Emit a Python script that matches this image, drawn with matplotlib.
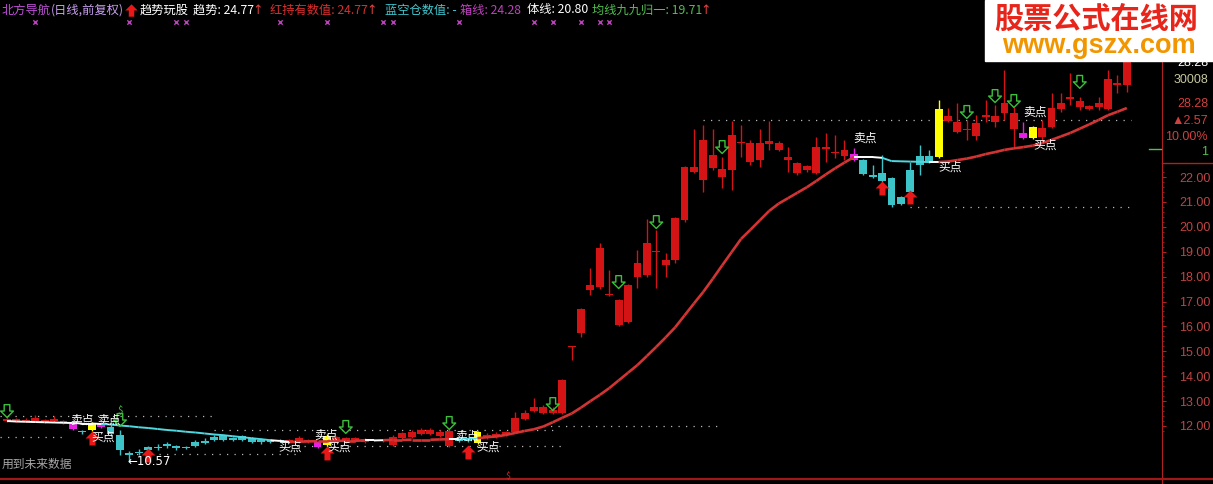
import numpy as np
import matplotlib
matplotlib.use("Agg")
import matplotlib.pyplot as plt
import matplotlib.transforms as mtransforms
from matplotlib.path import Path
from matplotlib.collections import LineCollection
from matplotlib.patches import Rectangle

plt.rcParams['font.family'] = ['Noto Sans CJK SC', 'DejaVu Sans']

# ---------------------------------------------- data

opens = [12.20, 12.22, 12.20, 12.22, 12.18, 12.20, 12.14, 12.08, 11.80, 11.82,
         12.12, 11.96, 11.64, 10.92, 10.96, 11.14, 11.16, 11.28, 11.20, 11.14,
         11.36, 11.40, 11.56, 11.58, 11.50, 11.60, 11.52, 11.44, 11.42, 11.42,
         11.36, 11.34, 11.34, 11.36, 11.24, 11.44, 11.36, 11.40, 11.36, 11.40,
         11.40, 11.24, 11.50, 11.56, 11.68, 11.68, 11.60, 11.80, 11.44, 11.42,
         11.32, 11.52, 11.56, 11.64, 11.76, 12.28, 12.60, 12.52, 12.52, 12.52,
         15.17, 15.73, 17.46, 17.58, 17.26, 17.06, 16.18, 17.98, 18.06, 18.99,
         18.47, 18.67, 20.27, 22.20, 23.49, 22.36, 22.32, 22.28, 23.37, 23.37,
         22.68, 23.33, 23.37, 22.80, 22.56, 22.28, 22.16, 23.12, 22.96, 22.84,
         22.92, 22.68, 22.04, 22.16, 21.96, 21.20, 21.40, 22.48, 22.84, 22.80,
         24.45, 24.21, 23.89, 23.65, 24.41, 24.45, 24.57, 24.57, 23.77, 23.57,
         23.61, 24.01, 24.73, 25.13, 25.05, 24.73, 24.81, 24.73, 25.71, 25.71]
highs = [12.40, 12.34, 12.32, 12.46, 12.30, 12.40, 12.26, 12.12, 11.84, 12.16,
         12.16, 12.16, 11.84, 11.00, 11.08, 11.20, 11.28, 11.36, 11.24, 11.20,
         11.44, 11.52, 11.64, 11.68, 11.56, 11.64, 11.56, 11.52, 11.48, 11.46,
         11.48, 11.60, 11.48, 11.40, 11.66, 11.60, 11.56, 11.56, 11.52, 11.48,
         11.48, 11.62, 11.76, 11.82, 11.92, 11.90, 11.82, 11.86, 11.48, 11.50,
         11.80, 11.70, 11.74, 11.80, 12.56, 12.64, 13.12, 12.84, 12.76, 13.90,
         15.21, 16.72, 18.35, 19.35, 18.27, 17.10, 17.70, 19.07, 20.31, 19.87,
         18.95, 20.40, 22.44, 23.93, 24.09, 23.93, 22.80, 24.25, 24.09, 23.49,
         23.93, 24.25, 23.45, 23.20, 22.60, 22.50, 23.61, 23.77, 23.69, 23.49,
         23.16, 22.72, 22.48, 22.88, 22.00, 21.24, 22.60, 23.29, 23.08, 25.09,
         24.77, 24.97, 24.29, 24.49, 25.09, 24.89, 26.30, 24.81, 24.21, 24.05,
         24.29, 25.37, 25.37, 26.18, 25.21, 24.89, 25.21, 26.30, 26.10, 28.28]
lows = [12.16, 12.18, 12.16, 12.18, 12.14, 12.16, 12.10, 11.84, 11.68, 11.78,
        11.90, 11.60, 10.84, 10.57, 10.84, 11.00, 11.04, 11.12, 11.04, 11.06,
        11.16, 11.28, 11.40, 11.40, 11.40, 11.40, 11.32, 11.28, 11.32, 11.34,
        11.32, 11.30, 11.30, 11.12, 11.20, 11.40, 11.32, 11.36, 11.32, 11.38,
        11.36, 11.20, 11.44, 11.52, 11.64, 11.64, 11.56, 11.16, 11.36, 11.34,
        11.28, 11.48, 11.52, 11.60, 11.72, 12.24, 12.56, 12.48, 12.48, 12.48,
        14.65, 15.57, 17.26, 17.50, 17.24, 16.00, 16.14, 17.54, 18.00, 17.54,
        17.98, 18.55, 20.20, 22.16, 21.40, 22.30, 21.56, 21.48, 22.80, 22.48,
        22.40, 23.08, 23.04, 22.20, 22.10, 22.20, 22.12, 22.60, 22.76, 22.68,
        22.64, 22.08, 21.96, 21.80, 20.80, 20.88, 21.36, 22.08, 22.56, 22.76,
        24.21, 23.77, 23.49, 23.49, 24.21, 24.01, 24.29, 23.20, 23.53, 23.53,
        23.41, 23.97, 24.61, 24.89, 24.69, 24.69, 24.69, 24.69, 25.37, 25.40]
closes = [12.30, 12.28, 12.26, 12.32, 12.24, 12.30, 12.20, 11.86, 11.74, 12.12,
          11.94, 11.66, 11.04, 10.84, 10.90, 11.04, 11.12, 11.18, 11.10, 11.10,
          11.20, 11.32, 11.44, 11.44, 11.44, 11.44, 11.36, 11.34, 11.36, 11.38,
          11.42, 11.52, 11.44, 11.16, 11.60, 11.56, 11.52, 11.52, 11.48, 11.44,
          11.44, 11.56, 11.70, 11.76, 11.84, 11.84, 11.76, 11.20, 11.40, 11.38,
          11.76, 11.64, 11.68, 11.76, 12.32, 12.52, 12.76, 12.76, 12.64, 13.85,
          15.19, 16.70, 17.66, 19.15, 17.28, 16.06, 17.66, 18.55, 19.35, 19.01,
          18.67, 20.35, 22.40, 22.40, 21.88, 22.88, 22.00, 23.69, 23.39, 22.60,
          23.37, 23.45, 23.08, 22.68, 22.16, 22.44, 23.20, 23.20, 22.98, 23.08,
          22.68, 22.12, 22.02, 21.84, 20.88, 20.92, 22.28, 22.84, 22.60, 24.73,
          24.25, 23.81, 23.91, 24.17, 24.49, 24.21, 24.97, 23.93, 23.57, 24.01,
          23.97, 24.77, 24.97, 25.21, 24.81, 24.85, 24.97, 25.94, 25.71, 28.28]

# signal state of each candle: r red / c blue-empty / y buy / m sell
candle_state = ("r" * 7 + "mcym" + "c" * 19 + "rrr" + "my" + "r" * 13 + "cc" + "y"
                + "r" * 39 + "m" + "c" * 8 + "y" + "r" * 8 + "my" + "r" * 10)

trend = [12.20, 12.18, 12.17, 12.16, 12.15, 12.14, 12.13, 12.12, 12.10, 12.10, 12.08,
         12.06, 12.02, 11.99, 11.95, 11.92, 11.88, 11.84, 11.81, 11.77, 11.74,
         11.70, 11.66, 11.63, 11.59, 11.55, 11.51, 11.47, 11.43, 11.40, 11.36,
         11.37, 11.38, 11.39, 11.39, 11.40, 11.41, 11.41, 11.42, 11.42, 11.43,
         11.44, 11.44, 11.45, 11.45, 11.45, 11.46, 11.47, 11.47, 11.48, 11.51,
         11.55, 11.58, 11.64, 11.72, 11.80, 11.87, 11.98, 12.15, 12.33, 12.50,
         12.74, 13.00, 13.25, 13.52, 13.83, 14.14, 14.45, 14.81, 15.18, 15.56,
         15.96, 16.44, 16.92, 17.39, 17.91, 18.45, 18.98, 19.51, 19.88, 20.26,
         20.64, 20.93, 21.15, 21.37, 21.59, 21.84, 22.10, 22.35, 22.58, 22.80,
         22.80, 22.80, 22.77, 22.64, 22.63, 22.62, 22.61, 22.60, 22.60, 22.62,
         22.68, 22.74, 22.82, 22.92, 23.00, 23.09, 23.15, 23.20, 23.26, 23.36,
         23.49, 23.63, 23.77, 23.94, 24.11, 24.29, 24.48, 24.62, 24.77]
trend_state = ("w" * 10 + "c" * 18 + "ww" + "r" * 8 + "ww" + "r" * 7 + "w" + "cc"
               + "r" * 40 + "www" + "c" * 5 + "w" + "r" * 21)

sell_arrow_idx = [0, 12, 36, 47, 58, 65, 69, 76, 102, 105, 107, 114]
sell_arrow_val = [12.60, 12.24, 11.96, 12.12, 12.88, 17.78, 20.19, 23.20, 24.61, 25.25, 25.05, 25.82]
buy_arrow_idx = [9, 15, 34, 49, 93, 96]
buy_arrow_val = [11.52, 10.84, 10.92, 10.96, 21.56, 21.20]

sell_text_x = [7.97, 10.84, 33.90, 48.88, 91.18, 109.25]
sell_text_y = [12.24, 12.24, 11.64, 11.60, 23.57, 24.61]
buy_text_x = [10.20, 30.07, 35.28, 51.12, 100.2, 110.3]
buy_text_y = [11.56, 11.16, 11.16, 11.16, 22.40, 23.29]

mark_idx = [3, 13, 18, 19, 29, 34, 40, 41, 48, 56, 58, 61, 63, 64]

dot_levels = [12.40, 11.56, 10.88, 11.84, 11.20, 11.98, 24.28, 20.80]
dot_start = [-0.7, -0.7, 13, 22, 30, 57, 74, 96]
dot_end = [22, 6, 31, 58, 59, 76, 119.5, 119.5]

price_ticks = list(range(12, 23))

# ---------------------------------------------- layout

W, H, DPI = 1213, 484, 100
AXIS_X = 1162
X0, STEP = 7, 9.41
Y22, PXU = 177, 24.9

candle_col = {'r': '#d41414', 'c': '#3cc4c8', 'y': '#ffff00', 'm': '#e81ee8'}
line_col = {'r': '#d23434', 'w': '#ffffff', 'c': '#50d8e0'}

fig = plt.figure(figsize=(W / DPI, H / DPI), dpi=DPI, facecolor='black')
ax = fig.add_axes([0, 0, AXIS_X / W, 1])
ax.set_facecolor('black')
ax.set_xlim(-X0 / STEP, (AXIS_X - X0) / STEP)
ax.set_ylim(22 - (H - Y22) / PXU, 22 + Y22 / PXU)

n = len(closes)
idx = np.arange(n)
o = np.array(opens); c = np.array(closes)
cols = [candle_col[s] for s in candle_state]

# candles
ax.vlines(idx, lows, highs, colors=cols, lw=1, zorder=2)
body_lo = np.minimum(o, c)
body_h = np.maximum(np.abs(c - o), 0.05)
ax.bar(idx, body_h, bottom=body_lo, width=0.84, color=cols, lw=0, zorder=2)

# dotted levels
for lv, a, b in zip(dot_levels, dot_start, dot_end):
  ax.plot([a, b], [lv, lv], color='#b8b8b8', lw=0.9, ls=(0, (1, 5)), zorder=1)

# trend line
segs = [[(i, trend[i]), (i + 1, trend[i + 1])] for i in range(n - 1)]
seg_col = [line_col[s] for s in trend_state[:n - 1]]
seg_lw = [1.9 if s == 'r' else 1.4 for s in trend_state[:n - 1]]
ax.add_collection(LineCollection(segs, colors=seg_col, linewidths=seg_lw, zorder=3))

# signal arrows
down_arrow = Path([(-0.22, 0.5), (0.22, 0.5), (0.22, 0.0), (0.5, 0.0), (0, -0.5),
                   (-0.5, 0.0), (-0.22, 0.0), (-0.22, 0.5)], closed=True)
up_arrow = Path([(0, 0.5), (0.5, 0.0), (0.22, 0.0), (0.22, -0.5), (-0.22, -0.5),
                 (-0.22, 0.0), (-0.5, 0.0), (0, 0.5)], closed=True)
ax.scatter(sell_arrow_idx, sell_arrow_val, marker=down_arrow, s=85,
           facecolors='none', edgecolors='#3cc03c', linewidths=1, zorder=5)
ax.scatter(buy_arrow_idx, buy_arrow_val, marker=up_arrow, s=100,
           color='#e81818', lw=0, zorder=5)

for x, y in zip(sell_text_x, sell_text_y):
  ax.text(x, y, '卖点', color='white', fontsize=8.5, ha='center', va='center', zorder=6)
for x, y in zip(buy_text_x, buy_text_y):
  ax.text(x, y, '买点', color='white', fontsize=8.5, ha='center', va='center', zorder=6)

lo_i = int(np.argmin(lows))
ax.text(lo_i - 0.25, lows[lo_i], '←%.2f' % lows[lo_i], color='white', fontsize=8.5,
        ha='left', va='center', family=['DejaVu Sans'], zorder=6)
ax.text(12, 12.62, '$', color='#3cc03c', fontsize=7, ha='center', va='center', zorder=6)

# purple marks along top
trans = mtransforms.blended_transform_factory(ax.transData, ax.transAxes)
ax.scatter(mark_idx, [1 - 22 / H] * len(mark_idx), transform=trans, marker='x',
           s=10, color='#c040c0', lw=1, zorder=5)

# price axis
for s in ['top', 'left', 'bottom']:
  ax.spines[s].set_visible(False)
ax.spines['right'].set_color('#b02020')
ax.xaxis.set_visible(False)
ax.yaxis.tick_right()
ax.set_yticks(price_ticks)
ax.set_yticklabels(['%.2f' % v for v in price_ticks])
ax.set_yticks(np.arange(11.8, 22.3, 0.2), minor=True)
ax.tick_params(axis='y', which='major', colors='#b02020', labelcolor='#c04444',
               length=3, pad=9.4, labelsize=9)
ax.tick_params(axis='y', which='minor', colors='#b02020', length=1.5)
for lbl in ax.get_yticklabels():
  lbl.set_family('Liberation Sans')

# ---------------------------------------------- overlay in pixels

ov = fig.add_axes([0, 0, 1, 1], zorder=5)
ov.set_xlim(0, W)
ov.set_ylim(H, 0)
ov.axis('off')
ov.patch.set_alpha(0)

header = [(2, '北方导航', '#c050d8'), (51, '(日线,前复权)', '#c8a0f0'),
          (140, '趋势玩股', 'white'), (193, '趋势: 24.77', 'white'),
          (270, '红持有数值: 24.77', '#d83030'), (385, '蓝空仓数值: -', '#40c8d0'),
          (460, '箱线: 24.28', '#c040c0'), (527, '体线: 20.80', 'white'),
          (592, '均线九九归一: 19.71', '#50c050')]
for x, t, col in header:
  ov.text(x, 10, t, color=col, fontsize=8.8, ha='left', va='center')
for x in [258, 372, 706]:
  ov.text(x, 10, '↑', color='#e04040', fontsize=9, ha='center', va='center',
          family=['DejaVu Sans'])
ov.scatter([131], [10], marker=up_arrow, s=80, color='#e81818', lw=0)

ov.text(2, 464, '用到未来数据', color='#a8a8a8', fontsize=8.5, ha='left', va='center')
ov.text(508, 476, '$', color='#d82020', fontsize=6.5, ha='center', va='center')

# info panel
info = [('28.28', 63, 'white'), ('30008', 80, '#c8c8a0'), ('28.28', 104, '#d04040'),
        ('▲2.57', 121, '#d04040'), ('10.00%', 137, '#d04040'), ('1', 152, '#50c050')]
for t, y, col in info:
  ov.text(1208, y, t, color=col, fontsize=9, ha='right', va='center',
          family=['Liberation Sans', 'DejaVu Sans'])
ov.plot([1149, 1161], [149, 149], color='#50c050', lw=1)
ov.plot([AXIS_X, W], [163, 163], color='#b02020', lw=1)
ov.plot([0, W], [479, 479], color='#a01818', lw=1.6)

# watermark
ov.add_patch(Rectangle((985, 0), W - 985, 61, color='white', zorder=8))
ov.text(1096, 19, '股票公式在线网', color='#e8251a', fontsize=21, weight='bold',
        ha='center', va='center', zorder=9)
ov.text(1099, 46, 'www.gszx.com', color='#f29600', fontsize=19.5, weight='bold',
        ha='center', va='center', family=['Liberation Sans'], zorder=9)

fig.savefig('out.png', dpi=DPI, facecolor='black')
